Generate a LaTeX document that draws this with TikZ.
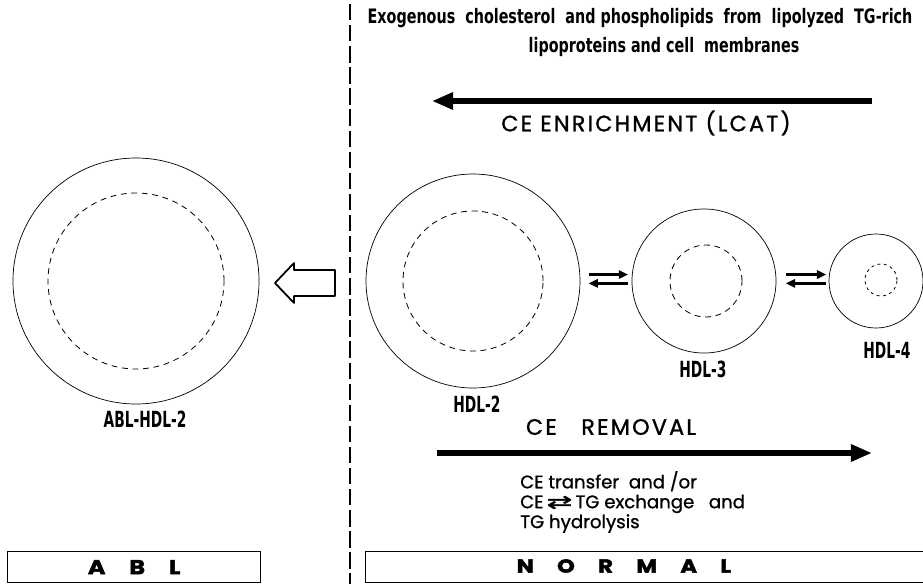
\documentclass[tikz,border=0pt]{standalone}
\usepackage{fontspec}
\usetikzlibrary{arrows.meta}
\newfontfamily\condf[FakeStretch=0.62]{DejaVu Sans}
\newfontfamily\condtop[FakeStretch=0.72]{DejaVu Sans}
\newfontfamily\geof[FakeBold=1]{Poppins}
\newfontfamily\geosp[LetterSpace=10,FakeBold=1.2]{Poppins}
\newfontfamily\heavyf[FakeStretch=1.2,FakeBold=2.5]{Poppins}
\newfontfamily\symf[FakeBold=1.5]{DejaVu Sans}
\tikzset{
  outer/.style={circle,draw,line width=0.6pt,inner sep=0pt},
  inner/.style={circle,draw,line width=0.7pt,dash pattern=on 5pt off 4pt,inner sep=0pt},
  lbl/.style={font=\condf\bfseries\fontsize{19}{19}\selectfont,inner sep=0pt},
  xarrow/.style={line width=2.1pt,-{Triangle[length=8pt,width=7pt]}},
  bigarrow/.style={line width=4.3pt,-{Triangle[length=18pt,width=14pt]}},
  framebox/.style={draw,line width=1.1pt,inner sep=0pt}
}
\begin{document}
\begin{tikzpicture}[x=0.03cm,y=-0.03cm]
\useasboundingbox (0,0) rectangle (923,584);
\clip (0,0) rectangle (923,584);
% divider
\coordinate (dtop) at (350,4);
\coordinate (dbot) at (350,584);
\draw[line width=1.2pt,dash pattern=on 14pt off 4pt] (dtop) -- (dbot);
% ABL particle
\node[outer,minimum size=7.38cm] (abl) at (136,281) {};
\node[inner,minimum size=5.28cm] (ablc) at (136,281) {};
\node[lbl] (ablt) at (145,419) {ABL-HDL-2};
% hollow arrow
\draw[line width=1.5pt,line join=round] (275,283) -- (294,263) -- (294,270) -- (335,270) -- (335,296) -- (294,296) -- (294,303) -- cycle;
% normal particles
\node[outer,minimum size=6.42cm] (h2) at (473,281) {};
\node[inner,minimum size=4.2cm] (h2c) at (473,281) {};
\node[lbl] (h2t) at (477,404) {HDL-2};
\node[outer,minimum size=4.32cm] (h3) at (704,281) {};
\node[inner,minimum size=2.16cm] (h3c) at (706,281) {};
\node[lbl] (h3t) at (703,369) {HDL-3};
\node[outer,minimum size=2.82cm] (h4) at (876,281) {};
\node[inner,minimum size=0.96cm,dash pattern=on 2.5pt off 3pt] (h4c) at (881,280) {};
\node[lbl] (h4t) at (887,350) {HDL-4};
% exchange arrows
\draw[xarrow,shorten <=7pt,shorten >=3pt] ([yshift=5.5pt]h2.east) -- ([yshift=5.5pt]h3.west);
\draw[xarrow,shorten <=3pt,shorten >=7pt] ([yshift=-2pt]h3.west) -- ([yshift=-2pt]h2.east);
\draw[xarrow,shorten <=8pt,shorten >=2pt] ([yshift=5.5pt]h3.east) -- ([yshift=5.5pt]h4.west);
\draw[xarrow,shorten <=2pt,shorten >=8pt] ([yshift=-2pt]h4.west) -- ([yshift=-2pt]h3.east);
% top text
\node[font=\condtop\bfseries\fontsize{17}{17}\selectfont,inner sep=0pt] (top1) at (640,18)
  {Exogenous\ \ cholesterol\ \ and phospholipids\ \ from\ \ lipolyzed\ \ TG-rich};
\node[font=\condtop\bfseries\fontsize{17}{17}\selectfont,inner sep=0pt] (top2) at (664,47)
  {lipoproteins and cell\ \ membranes};
% enrichment arrow
\coordinate (ea) at (872,101);
\coordinate (eb) at (432,101);
\draw[bigarrow] (ea) -- (eb);
\node[font=\geosp\fontsize{19}{19}\selectfont,inner sep=0pt] (enr) at (646,123) {CE ENRICHMENT (LCAT)};
% removal arrow
\node[font=\geosp\fontsize{19}{19}\selectfont,inner sep=0pt] (rem) at (611,427) {CE\ \ \ REMOVAL};
\coordinate (ra) at (437,453);
\coordinate (rb) at (872,453);
\draw[bigarrow] (ra) -- (rb);
\node[font=\geof\fontsize{15.5}{17}\selectfont,align=left,inner sep=0pt,anchor=west] (ce) at (520,502)
  {CE\ transfer\ \ and /or\\CE{\symf\,\scalebox{1.7}[1]{⇄}\,}TG\ exchange\ \ \ and\\TG hydrolysis};
% bottom boxes
\node[framebox,minimum width=7.59cm,minimum height=0.93cm,anchor=north west] (ablbox) at (7,551) {};
\node[font=\heavyf\bfseries\fontsize{17}{17}\selectfont,inner sep=0pt] (ablx) at (ablbox.center) {A\hspace{1.2em}B\hspace{1.2em}L};
\node[framebox,minimum width=17cm,minimum height=0.93cm,anchor=north west] (nbox) at (365,551) {};
\node[font=\heavyf\bfseries\fontsize{16}{16}\selectfont,inner sep=0pt] (nx) at (624,566) {N\hspace{1.25em}O\hspace{1.25em}R\hspace{1.25em}M\hspace{1.25em}A\hspace{1.25em}L};
\end{tikzpicture}
\end{document}
